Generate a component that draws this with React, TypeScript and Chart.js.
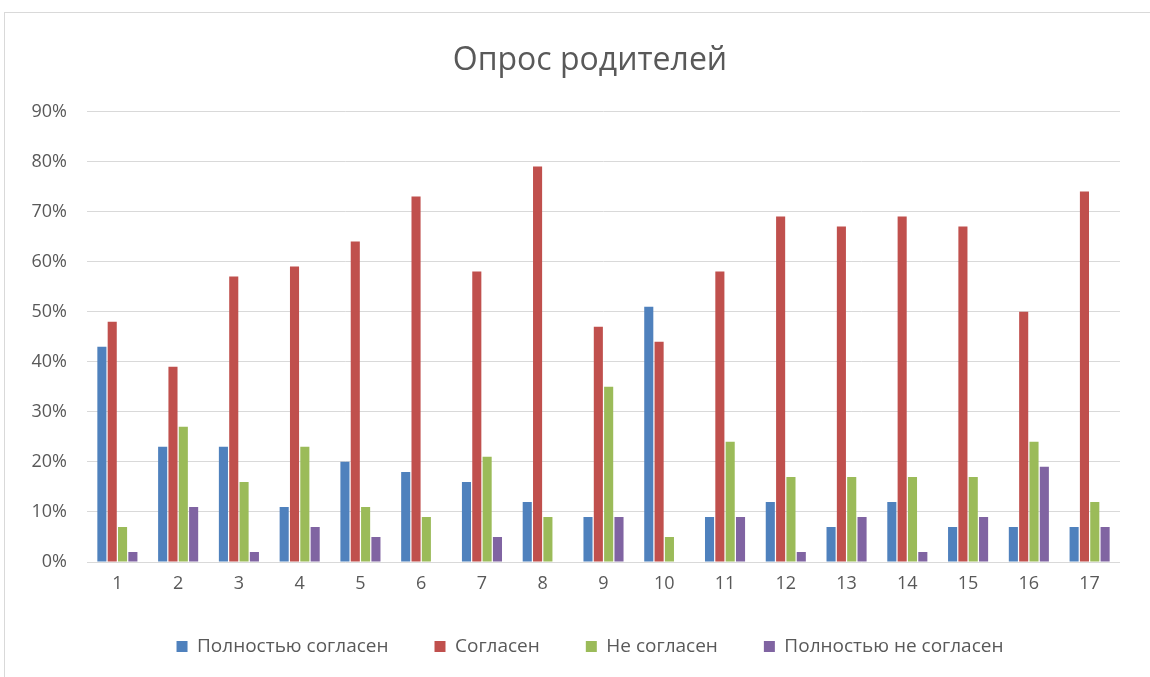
import React, { useEffect, useRef } from "react";
import { Chart, registerables } from "chart.js";

Chart.register(...registerables);

const categories = ["1","2","3","4","5","6","7","8","9","10","11","12","13","14","15","16","17"];
const fullyAgree = [43, 23, 23, 11, 20, 18, 16, 12, 9, 51, 9, 12, 7, 12, 7, 7, 7];
const agree = [48, 39, 57, 59, 64, 73, 58, 79, 47, 44, 58, 69, 67, 69, 67, 50, 74];
const disagree = [7, 27, 16, 23, 11, 9, 21, 9, 35, 5, 24, 17, 17, 17, 17, 24, 12];
const fullyDisagree = [2, 11, 2, 7, 5, 0, 5, 0, 9, 0, 9, 2, 9, 2, 9, 19, 7];
const seriesNames = ["Полностью согласен", "Согласен", "Не согласен", "Полностью не согласен"];
const titleText = "Опрос родителей";

const FONT = "'Open Sans', 'Noto Sans', sans-serif";
const TEXT = "#595959";

export default function App() {
  const ref = useRef<HTMLCanvasElement | null>(null);
  useEffect(() => {
    if (!ref.current) return;
    const chart = new Chart(ref.current, {
      type: "bar",
      data: {
        labels: categories,
        datasets: [
          { label: seriesNames[0], data: fullyAgree, backgroundColor: "#4f81bd" },
          { label: seriesNames[1], data: agree, backgroundColor: "#c0504d" },
          { label: seriesNames[2], data: disagree, backgroundColor: "#9bbb59" },
          { label: seriesNames[3], data: fullyDisagree, backgroundColor: "#8064a2" },
        ],
      },
      options: {
        animation: false,
        responsive: false,
        maintainAspectRatio: false,
        datasets: { bar: { categoryPercentage: 0.68, barPercentage: 0.88 } },
        layout: { padding: { top: 42, left: 20, right: 0, bottom: 11 } },
        plugins: {
          tooltip: { enabled: false },
          title: {
            display: true,
            text: titleText,
            color: TEXT,
            font: { family: FONT, size: 32, weight: "normal" },
            padding: { top: 0, bottom: 31 },
          },
          legend: {
            position: "bottom",
            labels: {
              color: TEXT,
              font: { family: FONT, size: 19 },
              boxWidth: 11,
              boxHeight: 11,
              padding: 46,
            },
          },
        },
        scales: {
          x: {
            grid: { display: false },
            border: { display: false },
            ticks: { color: TEXT, font: { family: FONT, size: 18 }, padding: 3 },
            afterFit: (s: any) => { s.height = 29; },
          },
          y: {
            min: 0,
            max: 90,
            ticks: {
              stepSize: 10,
              color: TEXT,
              font: { family: FONT, size: 18 },
              padding: 20,
              callback: (v: any) => `${v}%`,
            },
            grid: { color: "#d9d9d9", lineWidth: 1, drawTicks: false },
            border: { display: false },
            afterFit: (s: any) => { s.width = 67; },
          },
          yRight: {
            position: "right",
            grid: { display: false },
            border: { display: false },
            ticks: { display: false },
            afterFit: (s: any) => { s.width = 40; },
          },
        },
      },
    });
    return () => chart.destroy();
  }, []);
  return (
    <div style={{ position: "absolute", left: 0, top: 0, width: 1150, height: 677, overflow: "hidden", background: "#fff" }}>
      <div style={{ position: "absolute", left: 4, top: 12, width: 1160, height: 700, border: "1px solid #d9d9d9", boxSizing: "border-box" }} />
      <canvas ref={ref} width={1160} height={677} style={{ position: "absolute", left: 0, top: 0 }} />
    </div>
  );
}
